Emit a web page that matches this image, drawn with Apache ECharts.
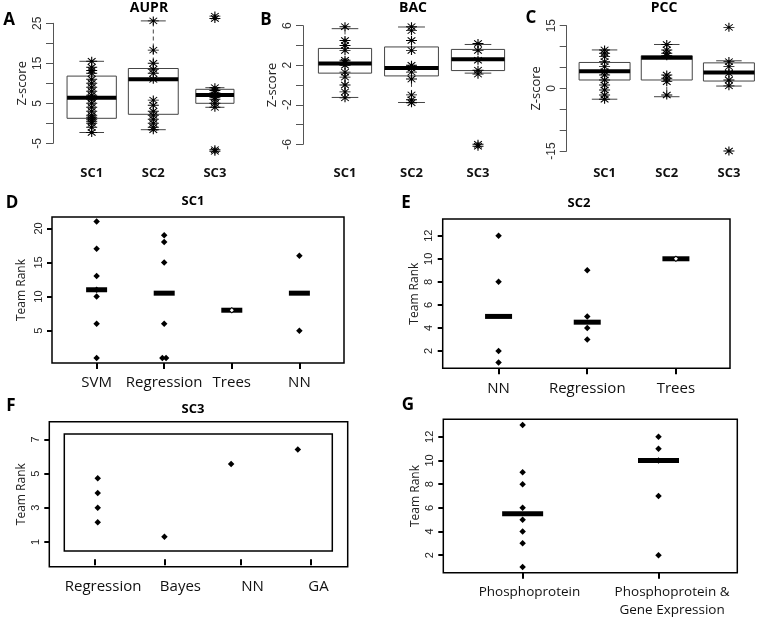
<!DOCTYPE html>
<html>
<head>
<meta charset="utf-8">
<title>Team rank figure</title>
<script src="https://cdn.jsdelivr.net/npm/echarts@6/dist/echarts.min.js"></script>
</head>
<body style="margin:0;background:#fff">
<div id="main" style="width:760px;height:626px;"></div>
<script>
// top row: box stats [min, Q1, median, Q3, max] and the scores per challenge
var scNames = ['SC1', 'SC2', 'SC3'];
var auprBox = [[-2.3, 1.25, 6.4, 11.8, 15.5], [-1.6, 2.25, 11, 13.7, 25.6], [4.0, 5.0, 7.1, 8.5, 8.9]];
var auprPts = [
  [15.5, 14, 13.2, 12.5, 11, 10, 9, 8, 7, 6.4, 6, 5, 4, 3, 2, 1.5, 1, 0.5, 0, -1, -2.3],
  [25.6, 18.3, 15, 13.5, 12.5, 11, 5.8, 4.5, 3, 2, 1, 0, -1, -1.6],
  [8.9, 8.2, 7.6, 7.1, 6.5, 6, 5, 4, 26.2, 26.8, -6.6, -7]
];
var bacBox = [[-1.26, 1.2, 2.17, 3.7, 5.7], [-1.77, 0.92, 1.73, 3.85, 5.87], [1.2, 1.46, 2.6, 3.6, 4.1]];
var bacPts = [
  [5.9, 4.5, 4.0, 3.5, 2.5, 2.3, 2, 1.3, 0.8, 0, -0.7, -1.3],
  [5.9, 5.5, 4.5, 3.5, 2, 1.7, 1.3, 0.6, -1.0, -1.5, -1.8],
  [4.2, 3.5, 2.5, 1.5, 1.1, -6.0, -6.2]
];
var pccBox = [[-2.6, 2.0, 4.1, 6.2, 9.2], [-2.0, 2.0, 7.3, 7.8, 10.5], [0.55, 1.75, 3.8, 6.1, 6.6]];
var pccPts = [
  [9.2, 8.4, 7.6, 6.4, 5.2, 4, 3.2, 2, 0.8, -0.4, -1.6, -2.6],
  [10.5, 9.2, 8.4, 7.8, 3.2, 2.4, 1.6, -1.6],
  [6.4, 5.2, 3.6, 2.0, 0.6, 14.6, -15]
];

// bottom panels: team ranks by method
var dCats = ['SVM', 'Regression', 'Trees', 'NN'];
var dRanks = [[1, 6, 10, 11, 13, 17, 21], [1, 1, 6, 15, 18, 19], [8], [5, 16]];
var dMed = [11, 10.5, 8, 10.5];

var eCats = ['NN', 'Regression', 'Trees'];
var eRanks = [[1, 2, 8, 12], [3, 4, 5, 9], [10]];
var eMed = [5, 4.5, 10];

var fCats = ['Regression', 'Bayes', 'NN', 'GA'];
var fRanks = [[2.15, 3.0, 3.86, 4.72], [1.31], [5.56], [6.4]];

var gCats = ['Phosphoprotein', 'Phosphoprotein &\nGene Expression'];
var gRanks = [[1, 3, 4, 5, 6, 8, 9, 13], [2, 7, 10, 11, 12]];
var gMed = [5.5, 10];

var chart = echarts.init(document.getElementById('main'));

var STAR = 'path://M0,5L10,5M5,0L5,10M1.5,1.5L8.5,8.5M8.5,1.5L1.5,8.5';
var calibri = '"Open Sans", "Liberation Sans", sans-serif';
var arial = '"Liberation Sans", Arial, sans-serif';

function boxSeries(idx, stats, widths) {
  return {
    type: 'custom', xAxisIndex: idx, yAxisIndex: idx, z: 2,
    data: stats.map(function (s, i) { return [i].concat(s); }),
    renderItem: function (params, api) {
      var i = api.value(0);
      var band = api.size([1, 0])[0];
      var w = band * widths[i];
      var cx = api.coord([i, 0])[0];
      function y(k) { return api.coord([i, api.value(k)])[1]; }
      var lo = y(1), q1 = y(2), md = y(3), q3 = y(4), hi = y(5);
      var dash = { stroke: '#444', lineWidth: 1, lineDash: [4, 3] };
      var solid = { stroke: '#444', lineWidth: 1 };
      return {
        type: 'group', children: [
          { type: 'line', shape: { x1: cx, y1: q3, x2: cx, y2: hi }, style: dash },
          { type: 'line', shape: { x1: cx, y1: q1, x2: cx, y2: lo }, style: dash },
          { type: 'line', shape: { x1: cx - w / 4, y1: hi, x2: cx + w / 4, y2: hi }, style: solid },
          { type: 'line', shape: { x1: cx - w / 4, y1: lo, x2: cx + w / 4, y2: lo }, style: solid },
          { type: 'rect', shape: { x: cx - w / 2, y: q3, width: w, height: q1 - q3 }, style: { fill: '#fff', stroke: '#444', lineWidth: 1 } },
          { type: 'line', shape: { x1: cx - w / 2, y1: md, x2: cx + w / 2, y2: md }, style: { stroke: '#000', lineWidth: 4 } }
        ]
      };
    }
  };
}

function starSeries(idx, pts) {
  var data = [];
  pts.forEach(function (g, i) { g.forEach(function (v) { data.push([i, v]); }); });
  return {
    type: 'scatter', xAxisIndex: idx, yAxisIndex: idx, z: 3, clip: false,
    symbol: STAR, symbolSize: [11, 9], data: data,
    itemStyle: { color: 'transparent', borderColor: '#000', borderWidth: 1, opacity: 1 }
  };
}

// points at category positions 1..n, equal ranks nudged side by side
function rankPoints(idx, groups) {
  var data = [];
  groups.forEach(function (g, i) {
    var seen = {};
    g.forEach(function (v) { seen[v] = (seen[v] || 0) + 1; });
    var used = {};
    g.forEach(function (v) {
      var n = seen[v], k = used[v] = (used[v] || 0) + 1;
      var off = n > 1 ? (k - (n + 1) / 2) * 0.055 : 0;
      data.push([i + 1 + off, v]);
    });
  });
  return {
    type: 'scatter', xAxisIndex: idx, yAxisIndex: idx, z: 3, clip: false,
    symbol: 'diamond', symbolSize: 6.5, data: data, itemStyle: { color: '#000', opacity: 1 }
  };
}

function medianBars(idx, med, w) {
  return {
    type: 'scatter', xAxisIndex: idx, yAxisIndex: idx, z: 4,
    symbol: 'rect', symbolSize: [w, 5],
    data: med.map(function (m, i) { return [i + 1, m]; }),
    itemStyle: { color: '#000', opacity: 1 }
  };
}

function loneDots(idx, groups) {
  var data = [];
  groups.forEach(function (g, i) { if (g.length === 1) data.push([i + 1, g[0]]); });
  return {
    type: 'scatter', xAxisIndex: idx, yAxisIndex: idx, z: 5,
    symbol: 'diamond', symbolSize: 4, data: data, itemStyle: { color: '#fff', opacity: 1 }
  };
}

function topY(idx, min, max, ticks, labels, offset) {
  return {
    gridIndex: idx, type: 'value', min: min, max: max, offset: offset,
    name: 'Z-score', nameLocation: 'middle', nameRotate: 90, nameGap: 24,
    nameTextStyle: { fontFamily: calibri, fontSize: 13, color: '#222' },
    axisLine: { show: true, lineStyle: { color: '#555', width: 1 } },
    axisTick: { show: true, length: 7, customValues: ticks, lineStyle: { color: '#555' } },
    axisLabel: { customValues: labels, rotate: 90, margin: 9, fontFamily: arial, fontSize: 12, color: '#333' },
    splitLine: { show: false }
  };
}

function topX(idx, margin) {
  return {
    gridIndex: idx, type: 'category', data: scNames, boundaryGap: true,
    axisLine: { show: false }, axisTick: { show: false },
    axisLabel: { margin: margin, fontFamily: calibri, fontWeight: 'bold', fontSize: 13, color: '#111' }
  };
}

function rankX(idx, min, max, cats, tickVals, labelVals, fs) {
  return {
    gridIndex: idx, type: 'value', min: min, max: max,
    axisLine: { show: false },
    axisTick: { show: true, length: 6, customValues: tickVals, lineStyle: { color: '#000', width: 2 } },
    axisLabel: {
      customValues: labelVals, margin: 10, fontFamily: calibri, fontSize: fs, color: '#111', lineHeight: fs + 5,
      formatter: function (v) {
        var k = -1;
        labelVals.forEach(function (t, j) { if (Math.abs(t - v) < 1e-6) k = j; });
        return k >= 0 ? cats[k] : '';
      }
    },
    splitLine: { show: false }
  };
}

function rankY(idx, min, max, ticks, gap) {
  return {
    gridIndex: idx, type: 'value', min: min, max: max,
    name: 'Team Rank', nameLocation: 'middle', nameRotate: 90, nameGap: gap,
    nameTextStyle: { fontFamily: calibri, fontSize: 12, color: '#222' },
    axisLine: { show: false },
    axisTick: { show: true, length: 5, customValues: ticks, lineStyle: { color: '#000', width: 2 } },
    axisLabel: { customValues: ticks, rotate: 90, margin: 8, fontFamily: arial, fontSize: 11, color: '#222' },
    splitLine: { show: false }
  };
}

var border = { show: true, borderColor: '#000', borderWidth: 1.5, backgroundColor: 'transparent' };

function txt(x, y, s, size, bold) {
  return {
    type: 'text', x: x, y: y,
    style: { text: s, fontFamily: calibri, fontSize: size, fontWeight: bold ? 'bold' : 'normal', fill: '#000', align: 'center', verticalAlign: 'top' }
  };
}

var option = {
  backgroundColor: '#fff',
  animation: false,
  grid: [
    { left: 60.9, top: 23.3, width: 184.8, height: 120 },
    { left: 311.75, top: 25.7, width: 199.5, height: 118.6 },
    { left: 573.5, top: 25.7, width: 189, height: 125.3 },
    Object.assign({ left: 52, top: 217, width: 292, height: 146 }, border),
    Object.assign({ left: 442.7, top: 219, width: 287.3, height: 149.3 }, border),
    Object.assign({ left: 49.3, top: 421.7, width: 298.4, height: 145 }, border),
    Object.assign({ left: 443.3, top: 419.3, width: 294, height: 153.4 }, border),
    Object.assign({ left: 64.3, top: 434, width: 268, height: 117 }, border)
  ],
  xAxis: [
    topX(0, 23), topX(1, 22), topX(2, 16),
    rankX(3, 0.34, 4.66, dCats, [1, 2, 3, 4], [1, 2, 3, 4], 15),
    rankX(4, 0.37, 3.61, eCats, [1, 2, 3], [1, 2, 3], 15),
    rankX(5, 0.274, 4.748, fCats, [0.96, 2, 3.15, 4.2], [1.08, 2.24, 3.32, 4.31], 15),
    rankX(6, 0.416, 2.58, gCats, [1, 2], [1.05, 2.1], 13.5)
  ],
  yAxis: [
    topY(0, -5, 25, [-5, 0, 5, 10, 15, 20, 25], [-5, 5, 15, 25], 7.9),
    topY(1, -6, 6, [-6, -4, -2, 0, 2, 4, 6], [-6, -2, 2, 6], 8.75),
    topY(2, -15, 15, [-15, -10, -5, 0, 5, 10, 15], [-15, 0, 15], 6.8),
    rankY(3, 0.26, 21.67, [5, 10, 15, 20], 24),
    rankY(4, 0.5, 13.45, [2, 4, 6, 8, 10, 12], 22),
    rankY(5, -0.44, 8.03, [1, 3, 5, 7], 22),
    rankY(6, 0.52, 13.48, [2, 4, 6, 8, 10, 12], 22)
  ],
  series: [
    boxSeries(0, auprBox, [0.8, 0.81, 0.62]), starSeries(0, auprPts),
    boxSeries(1, bacBox, [0.8, 0.81, 0.8]), starSeries(1, bacPts),
    boxSeries(2, pccBox, [0.82, 0.82, 0.82]), starSeries(2, pccPts),
    rankPoints(3, dRanks), medianBars(3, dMed, 21), loneDots(3, dRanks),
    rankPoints(4, eRanks), medianBars(4, eMed, 27), loneDots(4, eRanks),
    rankPoints(5, fRanks),
    rankPoints(6, gRanks), medianBars(6, gMed, 41)
  ],
  graphic: [
    txt(9, 12, 'A', 17, true), txt(266, 12, 'B', 17, true), txt(531, 10, 'C', 17, true),
    txt(149, 1, 'AUPR', 14, true), txt(413, 1, 'BAC', 14, true), txt(664, 1, 'PCC', 14, true),
    txt(12, 195, 'D', 17, true), txt(406, 195, 'E', 17, true),
    txt(11, 398, 'F', 17, true), txt(408, 397, 'G', 17, true),
    txt(193, 195, 'SC1', 13, true), txt(579, 197, 'SC2', 13, true), txt(193, 403, 'SC3', 13, true)
  ]
};

chart.setOption(option);
</script>
</body>
</html>
